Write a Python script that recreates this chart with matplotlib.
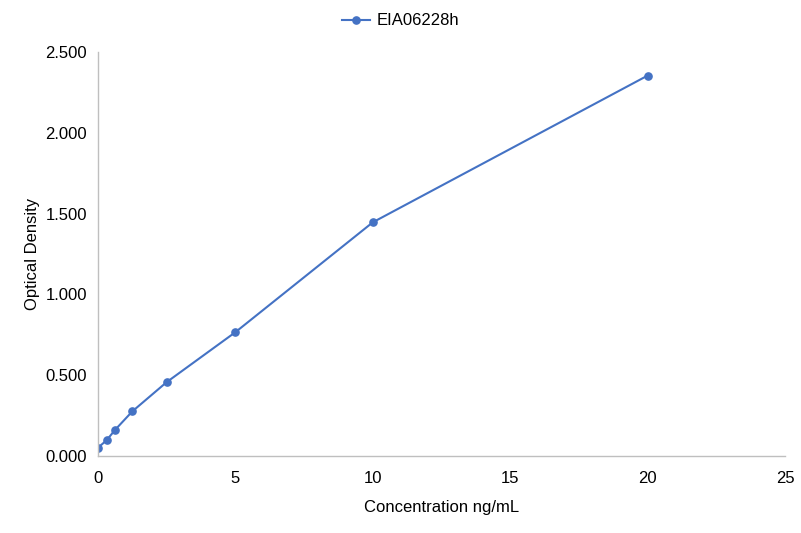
import matplotlib
matplotlib.use("Agg")
import matplotlib.pyplot as plt

plt.rcParams['font.family'] = ['Liberation Sans', 'DejaVu Sans']

concentration = [0, 0.3125, 0.625, 1.25, 2.5, 5, 10, 20]
optical_density = [0.051, 0.097, 0.162, 0.276, 0.457, 0.766, 1.446, 2.354]
series_name = "EIA06228h"
x_ticks = [0, 5, 10, 15, 20, 25]
y_ticks = [0, 0.5, 1.0, 1.5, 2.0, 2.5]

fig = plt.figure(figsize=(8.01, 5.33), dpi=100)
ax = fig.add_axes([0.1223, 0.1445, 0.8577, 0.7579])

ax.plot(concentration, optical_density, color='#4472C4', linewidth=1.5,
        marker='o', markersize=5.2, label=series_name)

ax.set_xlim(0, 25)
ax.set_ylim(0, 2.5)
ax.set_xticks(x_ticks)
ax.set_yticks(y_ticks)
ax.set_yticklabels(["%.3f" % v for v in y_ticks])

for side in ['top', 'right']:
    ax.spines[side].set_visible(False)
for side in ['left', 'bottom']:
    ax.spines[side].set_color('#BFBFBF')
    ax.spines[side].set_linewidth(1)

ax.tick_params(axis='both', length=0, labelsize=12, colors='#000000')
ax.tick_params(axis='y', pad=8)
ax.tick_params(axis='x', pad=11)

ax.set_xlabel("Concentration ng/mL", fontsize=12, labelpad=10)
ax.set_ylabel("Optical Density", fontsize=12, labelpad=3.7)

fig.legend(*ax.get_legend_handles_labels(), loc='center',
           bbox_to_anchor=(0.5, 1 - 21 / 533), frameon=False,
           fontsize=12, handlelength=1.65, handletextpad=0.4)

fig.savefig("out.png", dpi=100)
